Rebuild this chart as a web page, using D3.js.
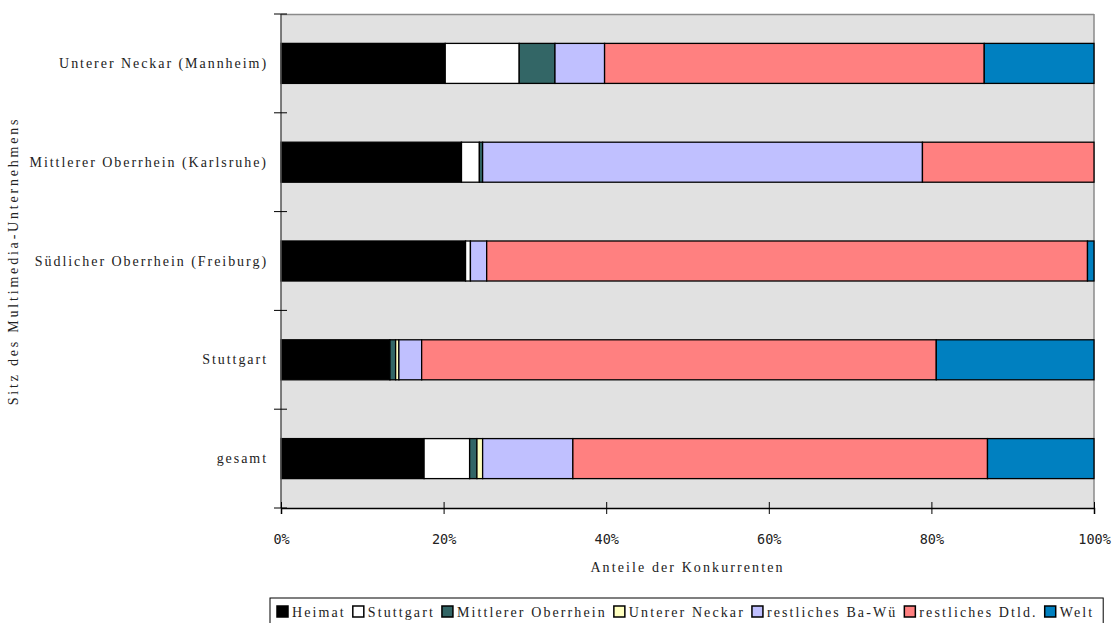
<!DOCTYPE html>
<html>
<head>
<meta charset="utf-8">
<script src="https://cdn.jsdelivr.net/npm/d3@7"></script>
<style>
  html, body { margin: 0; padding: 0; background: #ffffff; }
  svg { display: block; }
  .lbl { font-family: "Liberation Serif", serif; font-size: 14px; letter-spacing: 2.1px; fill: #222; }
  .cat { letter-spacing: 1.95px; }
  .ytitle { letter-spacing: 2.8px; }
  .tick-lbl { font-family: "DejaVu Sans Mono", monospace; font-size: 13.5px; fill: #222; }
</style>
</head>
<body>
<svg id="chart" width="1112" height="623"></svg>
<script>
const categories = ["Unterer Neckar (Mannheim)", "Mittlerer Oberrhein (Karlsruhe)", "Südlicher Oberrhein (Freiburg)", "Stuttgart", "gesamt"];
const seriesNames = ["Heimat", "Stuttgart", "Mittlerer Oberrhein", "Unterer Neckar", "restliches Ba-Wü", "restliches Dtld.", "Welt"];
const heimat       = [20.2, 22.2, 22.7, 13.4, 17.6];
const stuttgart    = [ 9.1,  2.2,  0.6,  0.0,  5.6];
const mittlererOR  = [ 4.4,  0.4,  0.0,  0.7,  0.9];
const untererN     = [ 0.0,  0.0,  0.0,  0.4,  0.7];
const restBaWue    = [ 6.1, 54.1,  2.0,  2.8, 11.1];
const restDtld     = [46.7, 21.1, 73.9, 63.3, 51.0];
const welt         = [13.5,  0.0,  0.8, 19.4, 13.1];
const seriesColors = ["#000000", "#ffffff", "#336666", "#ffffc0", "#c0c0ff", "#ff8080", "#0080c0"];
const xTicks = [0, 20, 40, 60, 80, 100];
const xTitle = "Anteile der Konkurrenten";
const yTitle = "Sitz des Multimedia-Unternehmens";

const seriesValues = [heimat, stuttgart, mittlererOR, untererN, restBaWue, restDtld, welt];
const rows = categories.map((c, i) => {
  const o = { cat: c };
  seriesNames.forEach((s, j) => o[s] = seriesValues[j][i]);
  return o;
});
const stacked = d3.stack().keys(seriesNames)(rows);

const W = 1112, H = 623;
const margin = { top: 14, right: 18, bottom: 115, left: 281 };
const iw = W - margin.left - margin.right;
const ih = H - margin.top - margin.bottom;

const svg = d3.select("#chart");
const g = svg.append("g").attr("transform", `translate(${margin.left},${margin.top})`);

const x = d3.scaleLinear().domain([0, 100]).range([0, iw]);
const y = d3.scaleBand().domain(categories).range([0, ih]).paddingInner(0.595).paddingOuter(0.2975);
const color = d3.scaleOrdinal().domain(seriesNames).range(seriesColors);

// plot background
g.append("rect").attr("x", 0).attr("y", 0).attr("width", iw).attr("height", ih)
  .attr("fill", "#e1e1e1");
// top and right border (gray)
g.append("line").attr("x1", 0).attr("x2", iw).attr("y1", 0.5).attr("y2", 0.5).attr("stroke", "#8a8a8a").attr("stroke-width", 1.5);
g.append("line").attr("x1", iw).attr("x2", iw).attr("y1", 0).attr("y2", ih).attr("stroke", "#8a8a8a").attr("stroke-width", 1.5);

// bars
g.selectAll("g.series").data(stacked).join("g").attr("class", "series")
  .attr("fill", d => color(d.key))
  .selectAll("rect").data(d => d.filter(p => p[1] - p[0] > 0)).join("rect")
  .attr("x", d => x(d[0]))
  .attr("width", d => x(d[1]) - x(d[0]))
  .attr("y", d => y(d.data.cat))
  .attr("height", y.bandwidth())
  .attr("stroke", "#000")
  .attr("stroke-width", 1.3);

// y axis line and ticks at band boundaries
g.append("line").attr("x1", 0).attr("x2", 0).attr("y1", 0).attr("y2", ih).attr("stroke", "#555").attr("stroke-width", 1.5);
const bounds = d3.range(categories.length + 1).map(i => i * y.step());
g.selectAll("line.ytick").data(bounds).join("line").attr("class", "ytick")
  .attr("x1", -7).attr("x2", 6).attr("y1", d => d).attr("y2", d => d)
  .attr("stroke", "#000").attr("stroke-width", 1);

// category labels
g.selectAll("text.cat").data(categories).join("text").attr("class", "lbl cat")
  .attr("x", -13).attr("y", d => y(d) + y.bandwidth() / 2)
  .attr("text-anchor", "end").attr("dominant-baseline", "central")
  .text(d => d);

// x axis
const xAxis = g.append("g").attr("transform", `translate(0,${ih})`)
  .call(d3.axisBottom(x).tickValues(xTicks).tickFormat(d => d + "%").tickSize(6).tickPadding(20));
xAxis.select(".domain").attr("stroke", "#000").attr("stroke-width", 1.5);
xAxis.selectAll(".tick line").attr("y1", -6).attr("stroke", "#000");
xAxis.selectAll(".tick text").attr("class", "tick-lbl").attr("font-family", null).attr("font-size", null);

// titles
g.append("text").attr("class", "lbl")
  .attr("x", iw / 2).attr("y", ih + 64)
  .attr("text-anchor", "middle").text(xTitle);
svg.append("text").attr("class", "lbl ytitle")
  .attr("transform", `translate(13,${margin.top + ih / 2}) rotate(-90)`)
  .attr("text-anchor", "middle").attr("dominant-baseline", "central").text(yTitle);

// legend
const leg = svg.append("g").attr("transform", "translate(270,598)");
const legBox = leg.append("rect").attr("x", 0).attr("y", 0).attr("height", 30)
  .attr("fill", "#fff").attr("stroke", "#000").attr("stroke-width", 1);
let cx = 7;
seriesNames.forEach(name => {
  const it = leg.append("g").attr("transform", `translate(${cx},0)`);
  it.append("rect").attr("x", 0).attr("y", 8).attr("width", 11).attr("height", 11)
    .attr("fill", color(name)).attr("stroke", "#000").attr("stroke-width", 1.5);
  const t = it.append("text").attr("class", "lbl").attr("x", 15).attr("y", 19).text(name);
  cx += 15 + t.node().getComputedTextLength() + 7;
});
legBox.attr("width", cx + 2);
</script>
</body>
</html>
